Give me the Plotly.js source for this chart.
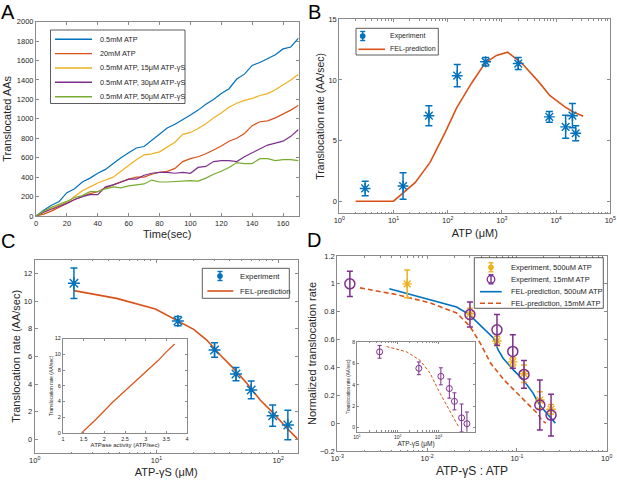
<!DOCTYPE html>
<html>
<head>
<meta charset="utf-8">
<script src="https://cdn.plot.ly/plotly-3.0.1.min.js"></script>
<style>
  html, body { margin: 0; padding: 0; background: #fff; }
  #fig { width: 617px; height: 480px; }
</style>
</head>
<body>
<div id="fig"></div>
<script>
// Figura de 4 paneles (A-D) con dos recuadros (insets en C y D).
// Los valores se leyeron a ojo de la figura original.

// ---- Panel A: AAs translocados vs tiempo ----
const tiempoA = [0, 5, 10, 15, 20, 25, 30, 35, 40, 45, 50, 55, 60, 65, 70, 75, 80, 85,
  90, 95, 100, 105, 110, 115, 120, 125, 130, 135, 140, 145, 150, 155, 160, 165, 170];
const aa05mM = [0, 60, 110, 150, 240, 280, 350, 390, 440, 480, 540, 600, 650, 700, 715, 780, 840, 905,
  945, 990, 1040, 1090, 1150, 1200, 1260, 1310, 1410, 1460, 1550, 1580, 1620, 1660, 1720, 1740, 1830];
const aa20mM = [0, 20, 50, 90, 130, 170, 200, 230, 250, 290, 320, 350, 380, 400, 400, 430, 450, 460,
  490, 560, 590, 610, 640, 680, 720, 770, 800, 850, 930, 970, 980, 1010, 1050, 1090, 1140];
const aa15uM = [0, 40, 80, 110, 140, 200, 260, 300, 340, 370, 400, 460, 520, 580, 630, 640, 660, 710,
  760, 840, 860, 900, 950, 1010, 1060, 1120, 1160, 1190, 1210, 1240, 1260, 1300, 1350, 1400, 1460];
const aa30uM = [0, 40, 70, 100, 130, 170, 200, 220, 220, 300, 320, 350, 380, 380, 420, 440, 450, 450,
  440, 450, 440, 500, 510, 560, 570, 570, 560, 610, 650, 690, 730, 750, 770, 820, 890];
const aa50uM = [0, 50, 90, 120, 150, 190, 210, 250, 250, 280, 300, 290, 310, 320, 330, 370, 350, 350,
  355, 360, 365, 360, 390, 430, 460, 500, 550, 540, 540, 590, 590, 570, 580, 580, 570];
const seriesA = [aa05mM, aa20mM, aa15uM, aa30uM, aa50uM];
const nombresA = ["0.5mM ATP", "20mM ATP", "0.5mM ATP, 15μM ATP-γS",
  "0.5mM ATP, 30μM ATP-γS", "0.5mM ATP, 50μM ATP-γS"];

// ---- Panel B: tasa vs ATP ----
const atpB = [3, 15, 45, 150, 500, 2000, 7500, 15000, 20000, 23000];
const tasaB = [1.05, 1.25, 7.05, 10.35, 11.5, 11.35, 6.95, 6.13, 7.05, 5.6];
const errB = [0.6, 1.1, 0.82, 0.92, 0.35, 0.5, 0.45, 0.95, 1.0, 0.62];
const felAtpB = [2, 10, 25, 47, 89, 146, 277, 488, 795, 1276, 2312, 4700, 7710, 14560, 20750, 31700];
const felTasaB = [0, 0, 1.53, 3.18, 5.64, 7.69, 9.75, 11.39, 12.02, 12.29, 11.39, 9.88, 8.7, 7.77, 7.36, 7.0];

// ---- Panel C: tasa vs ATP-γS ----
const gammaC = [2.1, 15, 30, 45, 60, 90, 120];
const tasaC = [11.28, 8.55, 6.46, 4.72, 3.57, 1.71, 1.04];
const errC = [1.1, 0.33, 0.53, 0.48, 0.64, 0.77, 1.06];
const felGammaC = [2.1, 4.7, 9.8, 15.7, 20.2, 25.9, 33.4, 42.9, 55.2, 71.1, 91.6, 118, 145];
const felTasaC = [10.75, 10.19, 9.42, 8.5, 7.95, 7.18, 6.1, 5.13, 4.05, 2.84, 1.88, 0.8, 0];
// inset C
const atpasaIns = [1.45, 1.8, 2.2, 2.6, 3.0, 3.3, 3.5, 3.7];
const tasaInsC = [0, 1.75, 3.9, 5.8, 7.8, 9.2, 10.3, 11.3];

// ---- Panel D: tasa normalizada vs ATP-γS : ATP ----
const ratio500 = [0.006, 0.03, 0.06, 0.09, 0.12, 0.18, 0.24];
const norm500 = [1.0, 0.785, 0.59, 0.44, 0.355, 0.166, 0.1];
const err500 = [0.1, 0.04, 0.034, 0.03, 0.063, 0.06, 0.034];
const ratio15 = [0.00138, 0.03, 0.06, 0.09, 0.12, 0.18, 0.24];
const norm15 = [1.0, 0.78, 0.67, 0.515, 0.35, 0.13, 0.058];
const err15 = [0.09, 0.09, 0.11, 0.12, 0.10, 0.18, 0.15];
const felRatio500 = [0.0038, 0.0108, 0.0213, 0.0295, 0.0423, 0.0547, 0.0619, 0.0702, 0.0913, 0.118, 0.152, 0.166, 0.186, 0.268];
const felNorm500 = [0.965, 0.887, 0.834, 0.779, 0.683, 0.611, 0.526, 0.466, 0.382, 0.31, 0.214, 0.166, 0.118, 0.0];
const felRatio15 = [0.00179, 0.00458, 0.0108, 0.0213, 0.030, 0.039, 0.051, 0.072, 0.11, 0.169, 0.19, 0.21];
const felNorm15 = [0.971, 0.923, 0.863, 0.791, 0.695, 0.575, 0.43, 0.31, 0.19, 0.07, 0.02, 0.0];
// inset D
const gammaInsD = [36, 331, 1150, 1860, 2480, 3720, 5030];
const tasaInsD = [7.1, 5.55, 4.8, 3.65, 2.45, 0.9, 0.35];
const errInsD = [0.6, 0.6, 0.8, 0.9, 0.8, 1.3, 1.1];
const felGammaInsD = [53, 166, 355, 624, 1100, 1950, 3100];
const felTasaInsD = [7.6, 7.1, 6.3, 5.1, 3.2, 1.5, 0.1];

// colores MATLAB
const AZUL = "#0072BD", NARANJA = "#D95319", AMARILLO = "#EDB120", MORADO = "#7E2F8E", VERDE = "#77AC30";
const coloresA = [AZUL, NARANJA, AMARILLO, MORADO, VERDE];
const GRIS = "#8a8a8a", TXT = "#262626";
const FUENTE = "Arial, 'Liberation Sans', sans-serif";

const W = 617, H = 480;
const px = (x) => x / W;
const py = (y) => 1 - y / H;

// ---- helpers de ejes ----
function eje(extra) {
  return Object.assign({
    showline: true, linecolor: GRIS, linewidth: 1, mirror: "ticks",
    ticks: "inside", ticklen: 3, tickcolor: GRIS, tickwidth: 1,
    tickfont: { size: 7.5, color: TXT, family: FUENTE },
    showgrid: false, zeroline: false, fixedrange: true,
  }, extra);
}
function ejeLog(d0, d1, extra) {
  const vals = [], txt = [], menores = [];
  for (let d = d0; d <= d1; d++) {
    vals.push(Math.pow(10, d));
    txt.push("10<sup>" + (d < 0 ? "-" : "") + Math.abs(d) + "</sup>");
    if (d < d1) for (let k = 2; k <= 9; k++) menores.push(k * Math.pow(10, d));
  }
  return eje(Object.assign({
    type: "log", tickmode: "array", tickvals: vals, ticktext: txt,
    minor: { tickmode: "array", tickvals: menores, ticks: "inside", ticklen: 1.5, tickcolor: GRIS, showgrid: false },
  }, extra));
}
function titulo(t, size, standoff) {
  return { text: t, font: { size: size, color: TXT, family: FUENTE }, standoff: standoff };
}

// ---- trazas ----
const trazas = [];
seriesA.forEach((s, i) => trazas.push({
  x: tiempoA, y: s, type: "scatter", mode: "lines", xaxis: "x", yaxis: "y",
  line: { color: coloresA[i], width: 1.2 }, showlegend: false,
}));

const errBar = (arr, color, w, th) => ({ type: "data", array: arr, visible: true, color: color, thickness: th || 1.5, width: w });
const marcador = (sym, size, color, w) => ({ symbol: sym, size: size, color: color, line: { color: color, width: w } });

trazas.push({
  x: felAtpB, y: felTasaB, mode: "lines", xaxis: "x2", yaxis: "y2",
  line: { color: NARANJA, width: 1.6 }, showlegend: false,
});
trazas.push({
  x: atpB, y: tasaB, mode: "markers", xaxis: "x2", yaxis: "y2",
  marker: marcador("asterisk-open", 9, AZUL, 1.4),
  error_y: errBar(errB, AZUL, 3.5), showlegend: false,
});

trazas.push({
  x: felGammaC, y: felTasaC, mode: "lines", xaxis: "x3", yaxis: "y3",
  line: { color: NARANJA, width: 1.6 }, showlegend: false,
});
trazas.push({
  x: gammaC, y: tasaC, mode: "markers", xaxis: "x3", yaxis: "y3",
  marker: marcador("asterisk-open", 10, AZUL, 1.4),
  error_y: errBar(errC, AZUL, 3.5), showlegend: false,
});
trazas.push({
  x: atpasaIns, y: tasaInsC, mode: "lines", xaxis: "x5", yaxis: "y5",
  line: { color: NARANJA, width: 1.2 }, showlegend: false,
});

trazas.push({
  x: felRatio500, y: felNorm500, mode: "lines", xaxis: "x4", yaxis: "y4",
  line: { color: AZUL, width: 1.6 }, showlegend: false,
});
trazas.push({
  x: felRatio15, y: felNorm15, mode: "lines", xaxis: "x4", yaxis: "y4",
  line: { color: NARANJA, width: 1.6, dash: "5px,3px" }, showlegend: false,
});
trazas.push({
  x: ratio500, y: norm500, mode: "markers", xaxis: "x4", yaxis: "y4",
  marker: marcador("asterisk-open", 8, AMARILLO, 1.4),
  error_y: errBar(err500, AMARILLO, 3), showlegend: false,
});
trazas.push({
  x: ratio15, y: norm15, mode: "markers", xaxis: "x4", yaxis: "y4",
  marker: marcador("circle-open", 10, MORADO, 1.5),
  error_y: errBar(err15, MORADO, 3), showlegend: false,
});
trazas.push({
  x: felGammaInsD, y: felTasaInsD, mode: "lines", xaxis: "x6", yaxis: "y6",
  line: { color: NARANJA, width: 1, dash: "3px,2px" }, showlegend: false,
});
trazas.push({
  x: gammaInsD, y: tasaInsD, mode: "markers", xaxis: "x6", yaxis: "y6",
  marker: marcador("circle-open", 6, MORADO, 1),
  error_y: errBar(errInsD, MORADO, 2, 1), showlegend: false,
});

// ---- leyendas dibujadas a mano (estilo MATLAB, filas compactas) ----
const shapes = [];
const notas = [];
function leyenda(caja, filas, cfg) {
  shapes.push({ type: "rect", xref: "paper", yref: "paper", layer: "above",
    x0: px(caja[0]), x1: px(caja[2]), y0: py(caja[1]), y1: py(caja[3]),
    line: { color: "#333", width: 0.8 }, fillcolor: "white" });
  filas.forEach((f, i) => {
    const y = cfg.filasY[i];
    if (f.tipo === "linea") {
      shapes.push({ type: "line", xref: "paper", yref: "paper", layer: "above",
        x0: px(cfg.lx[0]), x1: px(cfg.lx[1]), y0: py(y), y1: py(y),
        line: { color: f.color, width: f.ancho || 1.6, dash: f.dash || "solid" } });
    } else {
      const cx = cfg.mx, h = cfg.eh;
      shapes.push({ type: "line", xref: "paper", yref: "paper", layer: "above",
        x0: px(cx), x1: px(cx), y0: py(y - h), y1: py(y + h), line: { color: f.color, width: 1.4 } });
      [y - h, y + h].forEach((yy) => shapes.push({ type: "line", xref: "paper", yref: "paper", layer: "above",
        x0: px(cx - 2.5), x1: px(cx + 2.5), y0: py(yy), y1: py(yy), line: { color: f.color, width: 1.4 } }));
      const r = f.tipo === "circulo" ? 3.8 : 2.2;
      shapes.push({ type: "circle", xref: "paper", yref: "paper", layer: "above",
        x0: px(cx - r), x1: px(cx + r), y0: py(y - r), y1: py(y + r),
        line: { color: f.color, width: 1.3 }, fillcolor: f.tipo === "circulo" ? "rgba(0,0,0,0)" : f.color });
    }
    notas.push({ xref: "paper", yref: "paper", x: px(cfg.tx), y: py(y), xanchor: "left", yanchor: "middle",
      text: f.texto, showarrow: false, font: { size: cfg.tam, color: TXT, family: FUENTE } });
  });
}

leyenda([50.5, 30, 185, 103.5],
  nombresA.map((n, i) => ({ tipo: "linea", color: coloresA[i], texto: n, ancho: 1.4 })),
  { filasY: [39.3, 53.6, 68, 82.3, 96.7], lx: [55, 92], tx: 97.5, tam: 7.3 });

leyenda([356, 28.3, 438.3, 55],
  [{ tipo: "punto", color: AZUL, texto: "Experiment" }, { tipo: "linea", color: NARANJA, texto: "FEL-prediction" }],
  { filasY: [36, 49.3], lx: [358.5, 385], mx: 362.7, eh: 4.5, tx: 388.3, tam: 7 });

leyenda([202.3, 268.3, 289.3, 298.3],
  [{ tipo: "punto", color: AZUL, texto: "Experiment" }, { tipo: "linea", color: NARANJA, texto: "FEL-prediction" }],
  { filasY: [276, 291], lx: [207.3, 233.3], mx: 220, eh: 4.5, tx: 238.3, tam: 7.8 });

leyenda([474.3, 257.7, 603.3, 308.3],
  [{ tipo: "punto", color: AMARILLO, texto: "Experiment, 500uM ATP" },
   { tipo: "circulo", color: MORADO, texto: "Experiment, 15mM ATP" },
   { tipo: "linea", color: AZUL, texto: "FEL-prediction, 500uM ATP" },
   { tipo: "linea", color: NARANJA, dash: "5px,3px", texto: "FEL-prediction, 15mM ATP" }],
  { filasY: [267.3, 279.3, 291.7, 303.3], lx: [480, 501.7], mx: 491, eh: 4.5, tx: 509, tam: 7.5 });

// letras de panel (anclaje arriba para no salirse del lienzo)
[["A", 0, 0], ["B", 307, 0], ["C", 0, 229], ["D", 306, 228]].forEach(([l, x, y]) => notas.push({
  xref: "paper", yref: "paper", x: px(x), y: py(y), xanchor: "left", yanchor: "top", borderpad: 0,
  text: l, showarrow: false, font: { size: 20, color: "#000", family: FUENTE },
}));

const layout = {
  width: W, height: H, margin: { l: 0, r: 0, t: 0, b: 0 },
  paper_bgcolor: "white", plot_bgcolor: "white", showlegend: false,
  font: { family: FUENTE, color: TXT },
  xaxis: eje({ domain: [px(36), px(298.5)], range: [0, 170], anchor: "y",
    tickvals: [0, 20, 40, 60, 80, 100, 120, 140, 160], tickmode: "array",
    title: titulo("Time(sec)", 11, 1) }),
  yaxis: eje({ domain: [py(216), py(21.7)], range: [0, 2000], dtick: 200, anchor: "x",
    title: titulo("Translocated AAs", 11, 2) }),

  xaxis2: ejeLog(0, 5, { domain: [px(339.3), px(610.3)], range: [0, 5], anchor: "y2",
    title: titulo("ATP (μM)", 11, 5) }),
  yaxis2: eje({ domain: [py(213.3), py(19.3)], range: [-1, 15], dtick: 5, anchor: "x2",
    title: titulo("Translocation rate (AA/sec)", 10.5, 1) }),

  xaxis3: ejeLog(0, 2, { domain: [px(34.7), px(297.7)], range: [0, 2.16], anchor: "y3",
    title: titulo("ATP-γS (μM)", 11, 4) }),
  yaxis3: eje({ domain: [py(453.2), py(259.5)], range: [-1, 13], dtick: 2, anchor: "x3",
    title: titulo("Translocation rate (AA/sec)", 11, 1) }),

  xaxis4: ejeLog(-3, 0, { domain: [px(337.3), px(606.7)], range: [-3, 0], anchor: "y4",
    title: titulo("ATP-γS : ATP", 12, 4) }),
  yaxis4: eje({ domain: [py(451), py(256)], range: [-0.2, 1.2], dtick: 0.2, anchor: "x4",
    title: titulo("Normalized translocation rate", 11, 1) }),

  xaxis5: eje({ domain: [px(63), px(187)], range: [1, 4], dtick: 0.5, anchor: "y5",
    tickfont: { size: 5.5, color: TXT, family: FUENTE }, ticklen: 2,
    title: titulo("ATPase activity (ATP/sec)", 6, 0) }),
  yaxis5: eje({ domain: [py(433), py(338.5)], range: [0, 12], dtick: 2, anchor: "x5",
    tickfont: { size: 5.5, color: TXT, family: FUENTE }, ticklen: 2,
    title: titulo("Translocation rate (AA/sec)", 5, 1) }),

  xaxis6: ejeLog(1, 3, { domain: [px(357), px(475)], range: [1, 3.9], anchor: "y6",
    tickfont: { size: 5, color: TXT, family: FUENTE }, ticklen: 2,
    title: titulo("ATP-γS (μM)", 6.5, 0) }),
  yaxis6: eje({ domain: [py(431.7), py(341.7)], range: [-0.4, 8.05], dtick: 2, anchor: "x6",
    tickfont: { size: 5, color: TXT, family: FUENTE }, ticklen: 2,
    title: titulo("Translocation rate (AA/sec)", 4.5, 1) }),

  shapes: shapes,
  annotations: notas,
};

Plotly.newPlot("fig", trazas, layout, { staticPlot: true, displayModeBar: false });
</script>
</body>
</html>
